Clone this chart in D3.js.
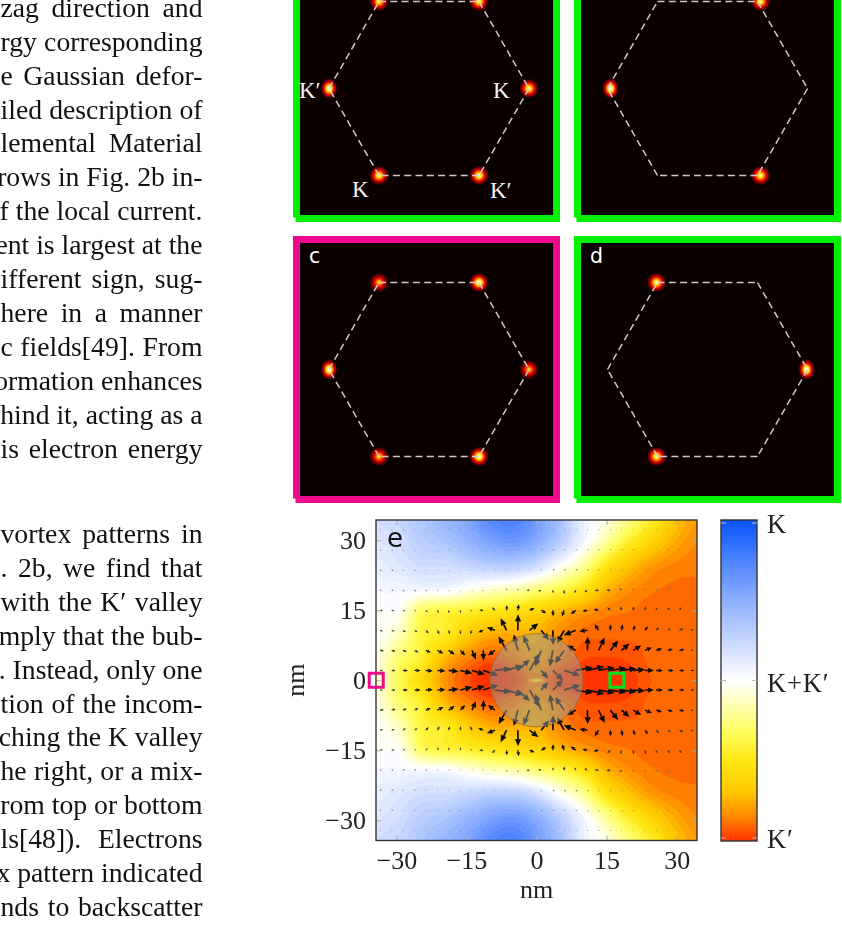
<!DOCTYPE html>
<html><head><meta charset="utf-8">
<script src="https://cdnjs.cloudflare.com/ajax/libs/d3/7.8.5/d3.min.js"></script>
<style>
html,body{margin:0;padding:0;background:#fff;overflow:hidden}
svg{display:block;filter:blur(0.45px)}
text{font-family:"Liberation Serif",serif}
</style></head><body><svg id="c" width="842" height="931"></svg>
<script>
// ---------- page text (column cropped by the picture's left edge) ----------
const bodyLinesTop=["zag direction and","rgy corresponding","e Gaussian defor-","iled description of","lemental Material","rows in Fig. 2b in-","f the local current.","ent is largest at the","ifferent sign, sug-","here in a manner","c fields[49]. From","ormation enhances","hind it, acting as a","is electron energy"];
const bodyLinesBottom=["vortex patterns in",". 2b, we find that","with the K′ valley","mply that the bub-",". Instead, only one","tion of the incom-","ching the K valley","he right, or a mix-","rom top or bottom","ls[48]). Electrons","x pattern indicated","nds to backscatter"];

// ---------- panels a-d: diffraction spots ----------
const panelNames=["a","b","c","d"];
const panelFrames=["green","green","pink","green"];
const hexVertices=[[-1,0],[-0.5,0.87],[0.5,0.87],[1,0],[0.5,-0.87],[-0.5,-0.87]];
// spot: k-space x, k-space y, intensity
const spotsA=[[-0.5,0.87,.8],[0.5,0.87,.85],[-1,0,1],[1,0,.85],[-0.5,-0.87,.85],[0.5,-0.87,.9]];
const spotsB=[[0.53,0.87,.85],[-0.97,0,1],[0.53,-0.87,.85]];
const spotsC=[[-0.5,0.87,.68],[0.5,0.87,.95],[-1,0,1],[1,0,.66],[-0.5,-0.87,.7],[0.5,-0.87,.95]];
const spotsD=[[-0.51,0.87,.88],[0.99,0,1],[-0.51,-0.87,.88]];
const panelSpots=[spotsA,spotsB,spotsC,spotsD];
const valleyLabels=[["K′",-1.30,-0.09],["K",0.64,-0.09],["K",-0.77,-1.08],["K′",0.61,-1.09]];

// ---------- panel e: valley polarisation (+1 K, -1 K′), rows top to bottom ----------
const fieldX=[-34.3,-29.4,-24.5,-19.6,-14.7,-9.8,-4.9,0,4.9,9.8,14.7,19.6,24.5,29.4,34.3];
const fieldY=[34.3,29.4,24.5,19.6,14.7,9.8,4.9,0,-4.9,-9.8,-14.7,-19.6,-24.5,-29.4,-34.3];
const fieldRows=[
[.2,.25,.35,.45,.55,.7,.75,.6,.4,.1,-.05,-.25,-.45,-.68,-.8],
[.15,.2,.3,.35,.45,.55,.6,.5,.3,.05,-.2,-.45,-.62,-.76,-.84],
[.1,.15,.2,.2,.25,.3,.3,.2,0,-.2,-.5,-.68,-.8,-.85,-.87],
[.05,.05,.05,.05,-.03,-.1,-.15,-.25,-.35,-.5,-.72,-.82,-.87,-.89,-.89],
[-.01,-.03,-.33,-.4,-.44,-.5,-.55,-.62,-.72,-.8,-.86,-.88,-.9,-.9,-.9],
[-.01,-.14,-.4,-.46,-.65,-.76,-.76,-.74,-.84,-.9,-.91,-.91,-.91,-.9,-.9],
[-.05,-.28,-.44,-.72,-.85,-.92,-.86,-.78,-.86,-.95,-.96,-.95,-.91,-.9,-.9],
[-.08,-.35,-.58,-.82,-.95,-1.05,-.98,-.85,-.98,-1,-1.05,-.99,-.92,-.9,-.9],
[-.05,-.28,-.44,-.72,-.85,-.92,-.86,-.78,-.86,-.95,-.96,-.95,-.91,-.9,-.9],
[-.01,-.14,-.4,-.46,-.65,-.76,-.76,-.74,-.84,-.9,-.91,-.91,-.91,-.9,-.9],
[-.01,-.03,-.33,-.4,-.44,-.5,-.55,-.62,-.72,-.8,-.86,-.88,-.9,-.9,-.9],
[.05,.05,.05,.05,-.03,-.1,-.15,-.25,-.35,-.5,-.72,-.82,-.87,-.89,-.89],
[.1,.15,.2,.2,.25,.3,.3,.2,0,-.2,-.5,-.68,-.8,-.85,-.87],
[.15,.2,.3,.35,.45,.55,.6,.5,.3,.05,-.2,-.45,-.62,-.76,-.84],
[.2,.25,.35,.45,.55,.7,.75,.6,.4,.1,-.05,-.25,-.45,-.68,-.8]];
const colorStops=[-1,-.84,-.69,-.5,-.31,0,.5,1];
const colorRange=["#ff3200","#ff8c00","#ffc800","#ffe614","#ffff64","#ffffff","#8cafff","#0a55ff"];

// ---------- panel e: local current arrows ----------
const quiverX=[-33.5,-31,-28.6,-26.1,-23.7,-21.2,-18.8,-16.3,-13.8,-11.4,-8.9,-6.4,-4,-1.5,1,3.5,5.9,8.4,10.9,13.3,15.8,18.2,20.7,23.2,25.6,28.1,30.6,33];
const quiverY=[32.2,27.9,23.6,19.3,15,10.7,6.4,2.1];
const currentU=[
[1,1,1,1,1,1,1,1,1,1,1,1,1,1,1,1,1,1,1,1,1,.3,.3,.3,.3,.3,.3,.3],
[1.5,1.5,1,1,1,1,1,1,1,1,1,1,1,1,1.5,1.5,1.5,1.5,1,1,1,1,1,.5,.5,.5,.5,.5],
[2,2,1.5,1.5,1,1,1,.5,.5,.5,.3,.3,.3,.3,1,2,2,2,1.5,1,1,1,.5,.5,.5,.5,.5,.5],
[2,2,2,2,1.5,1,1,.5,.3,-1,-1,.3,.5,-3,-3,.3,.3,-1,-3,-4,-4,-2,.3,.3,1,1,1,1],
[3,3,2.5,2,2,1,.3,.3,-2,-4,-3,.3,1,5,5,.3,-2,-5,-5,-5,-3,-1,.3,1,1,2,2,1],
[3,3,3,3,3,2,1,.3,-2,-5,-8,-6,.3,9,8,.3,-7,-12,-8,-4,.3,1,2,3,3,3,4,3],
[4,4,4,4,5,6,6,5,4,.3,-7,-8,-4,-6,-6,-3,-9,-9,.3,6,8,8,8,7,6,5,5,3],
[3,4,5,6,7,8,10,12,13,15,16,16,12,10,7,10,16,17,17,16,16,15,12,9,7,6,5,4]];
const currentV=[
[.5,.5,.5,.5,.5,.5,.5,.5,.5,.5,.5,.5,.5,.5,.5,.5,.5,.5,.5,.5,.5,1,1,1,1,1,1,1],
[-.5,-.5,-.5,-.5,-.5,-.5,-.5,-.5,-.5,0,0,0,.5,.5,.5,.5,.5,.5,1,1,1,1,1,1,1,1,1,1],
[-.5,-.5,-.5,-.5,-.5,-.5,-.5,0,0,0,1,1,1,1,1,1,1,1,1,1,1,1,1,1,1,1,1,1],
[-.5,-.5,-1,-1,-1,-1,-1,-1,-1,-1,-.5,2,2,0,-1,-3,-4,-3,-2,-.5,0,2,2,2,2,2,2,1],
[-.5,-.5,-1,-1,-2,-3,-3,-3,-1,0,3,5,6,2,-3,-6,-6,-4,-1,1,3,4,4,4,3,3,3,1],
[-1,-1,-2,-2,-3,-4,-4,-4,-4,-2,3,12,16,7,-10,-15,-13,-5,-1,6,6,6,5,4,3,2,2,1],
[-.5,-1,-1.5,-2,-2,-3,-4,-5,-9,-10,-5,14,16,15,-16,-16,-13,5,14,13,10,7,5,3,2,1.5,1,.5],
[0,0,0,0,-.5,-.5,-1,-3,-4,-5,2,5,11,17,-8,-10,-5,3,4,3,2.5,2,1,0,0,0,0,0]];
// the lower half of the picture reads as the mirror image of these rows about y = 0

const axisTicks=[-30,-15,0,15,30];
const circleRadiusNm=10.0;
const markerPink=[-34.3,0], markerGreen=[17.2,0];
const colorbarLabels=[[1,"K"],[0,"K+K′"],[-1,"K′"]];
const xLabel="nm", yLabel="nm", panelELabel="e";

// =======================================================================
const svg=d3.select("#c"), defs=svg.append("defs");

// body text, justified to the column the way the page was set
const bodyFont=27.7, colRight=202.5, colLeft=0.5;
const bodyG=svg.append("g").attr("font-size",bodyFont).attr("fill","#111").attr("text-anchor","end");
const writeLines=(lines,first)=>lines.forEach((t,i)=>{
  const el=bodyG.append("text").attr("x",colRight).attr("y",first+i*33.9).text(t);
  const w=el.node().getComputedTextLength(), gaps=t.split(" ").length-1, extra=colRight-colLeft-w;
  if(extra>0&&gaps>0) el.attr("word-spacing",extra/gaps);
});
writeLines(bodyLinesTop,16.8); writeLines(bodyLinesBottom,543);

// panels
const frameColor={green:"#00f000",pink:"#ee0a8c"};
const panelBox={a:[300,-38,2.5],b:[581,-38,0],c:[300,243,2.5],d:[581,243,0]};
const hot=d3.scaleLinear().domain([0,.38,.72,1]).range(["#0a0000","#f00000","#ffe000","#ffffff"]).clamp(true);
panelNames.forEach((name,pi)=>{
  const [bx,by,shift]=panelBox[name], W=253;
  const g=svg.append("g").attr("transform",`translate(${bx},${by})`);
  const fc=frameColor[panelFrames[pi]];
  g.append("rect").attr("x",-7).attr("y",-7).attr("width",267).attr("height",262.5).attr("fill",fc);
  g.append("rect").attr("x",-4.5).attr("y",253).attr("width",264.5).attr("height",7).attr("fill",fc);
  g.append("rect").attr("width",W).attr("height",W).attr("fill","#0a0000");
  const kx=d3.scaleLinear().domain([-1.265,1.265]).range([shift,W+shift]);
  const ky=d3.scaleLinear().domain([1.265,-1.265]).range([0,W]);
  panelSpots[pi].forEach((s,si)=>{
    const id=`sp${pi}_${si}`, I=s[2];
    const grad=defs.append("radialGradient").attr("id",id);
    d3.range(0,1.01,.1).forEach(t=>{
      const v=I*Math.pow(1-t,1.2)*1.15;
      grad.append("stop").attr("offset",t).attr("stop-color",hot(v));
    });
    const r=10;
    g.append("circle").attr("cx",kx(s[0])).attr("cy",ky(s[1])).attr("r",r+5).attr("fill","none").attr("stroke","#2a0505").attr("stroke-width",.8).attr("stroke-dasharray",I>.8?"24,80":"0,200");
    g.append("ellipse").attr("cx",kx(s[0])).attr("cy",ky(s[1])).attr("rx",I>=1?r*.85:r).attr("ry",I>=1?r*1.05:r).attr("fill",`url(#${id})`);
  });
  hexVertices.forEach((v,i)=>{
    const w=hexVertices[(i+1)%6];
    g.append("line").attr("x1",kx(v[0])).attr("y1",ky(v[1])).attr("x2",kx(w[0])).attr("y2",ky(w[1]))
     .attr("stroke","#cfc9c9").attr("stroke-width",1.5).attr("stroke-dasharray","7,4.3");
  });
  if(name==="a") valleyLabels.forEach(l=>g.append("text").attr("x",kx(l[1])).attr("y",ky(l[2])).attr("fill","#f4f0f0").attr("font-size",23).text(l[0]));
  if(name==="c"||name==="d") g.append("text").attr("x",9).attr("y",20).attr("fill","#fff").attr("font-size",20.5).style("font-family","'DejaVu Sans',sans-serif").text(name);
});

// panel e
const P={l:376,r:697,t:520,b:840.5};
const x=d3.scaleLinear().domain([-34.35,34.35]).range([P.l,P.r]);
const y=d3.scaleLinear().domain([34.35,-34.35]).range([P.t,P.b]);
const color=d3.scaleLinear().domain(colorStops).range(colorRange).clamp(true);

defs.append("clipPath").attr("id","plotClip").append("rect").attr("x",P.l).attr("y",P.t).attr("width",P.r-P.l).attr("height",P.b-P.t);
const plot=svg.append("g").attr("clip-path","url(#plotClip)");

// Catmull-Rom resampling of the read grid so that the filled bands are drawn smooth
const n=fieldRows.length, k=8, m=(n-1)*k+1;
const cr=(a,b,c,d,t)=>.5*((2*b)+(-a+c)*t+(2*a-5*b+4*c-d)*t*t+(-a+3*b-3*c+d)*t*t*t);
const at=(r,c)=>fieldRows[Math.max(0,Math.min(n-1,r))][Math.max(0,Math.min(n-1,c))];
const fine=new Float64Array(m*m);
for(let j=0;j<m;j++)for(let i=0;i<m;i++){
  const fy=j/k,fx=i/k,r=Math.min(n-2,Math.floor(fy)),c=Math.min(n-2,Math.floor(fx)),ty=fy-r,tx=fx-c;
  const row=q=>cr(at(q,c-1),at(q,c),at(q,c+1),at(q,c+2),tx);
  fine[j*m+i]=cr(row(r-1),row(r),row(r+1),row(r+2),ty);
}
const thresholds=d3.range(-1.2,1.01,.04);
const fx2=d3.scaleLinear().domain([.5,m-.5]).range([x(fieldX[0]),x(fieldX[n-1])]);
const fy2=d3.scaleLinear().domain([.5,m-.5]).range([y(fieldY[0]),y(fieldY[n-1])]);
const contourPath=d3.geoPath(d3.geoTransform({point(a,b){this.stream.point(fx2(a),fy2(b));}}));
plot.selectAll("path.band").data(d3.contours().size([m,m]).thresholds(thresholds)(fine)).join("path")
  .attr("class","band").attr("d",contourPath).attr("fill",d=>color(d.value+.02)).attr("stroke",d=>color(d.value+.02)).attr("stroke-width",.3);

// arrows
const rowsAll=[];
currentU.forEach((u,r)=>rowsAll.push({yn:quiverY[r],u,v:currentV[r]}));
currentU.slice().reverse().forEach((u,ri)=>{const r=currentU.length-1-ri;rowsAll.push({yn:-quiverY[r],u,v:currentV[r].map(d=>-d)});});
const arrowG=plot.append("g");
rowsAll.forEach(R=>quiverX.forEach((xn,i)=>{
  const dx=R.u[i],dy=-R.v[i],L=Math.hypot(dx,dy)||1;
  const x0=x(xn),y0=y(R.yn),ux=dx/L,uy=dy/L;
  const hl=Math.min(7,.6*L+.4),hw=hl*.45;
  const sw=Math.min(1.7,.6+L*.11);
  const bx=x0+ux*(L-hl),by=y0+uy*(L-hl);
  const col=L<2.5?"#666":L<5?"#333":"#0c0c0c";
  arrowG.append("line").attr("x1",x0).attr("y1",y0).attr("x2",bx).attr("y2",by).attr("stroke",col).attr("stroke-width",sw);
  arrowG.append("path").attr("d",d3.line()([[x0+dx,y0+dy],[bx-uy*hw,by+ux*hw],[bx+uy*hw,by-ux*hw]])+"Z").attr("fill",col);
}));

// deformation bubble
const rPx=x(circleRadiusNm)-x(0);
plot.append("circle").attr("cx",x(0)).attr("cy",y(0)).attr("r",rPx).attr("fill","#999").attr("fill-opacity",.5).attr("stroke","#8a5a20").attr("stroke-opacity",.6).attr("stroke-width",1);
const glow=defs.append("radialGradient").attr("id","centerGlow");
glow.append("stop").attr("offset",0).attr("stop-color","#e8e860").attr("stop-opacity",.8);
glow.append("stop").attr("offset",1).attr("stop-color","#e8c860").attr("stop-opacity",0);
plot.append("ellipse").attr("cx",x(0)).attr("cy",y(0)).attr("rx",10).attr("ry",3).attr("fill","url(#centerGlow)");

// axes
const tickFmt=d=>String(d).replace("-","−");
const styleAxis=g=>{g.select(".domain").remove();g.selectAll("line").attr("stroke","#aaa").attr("stroke-width",1);
  g.selectAll("text").attr("fill","#222").style("font-family","'Liberation Serif',serif").attr("font-size",26);};
svg.append("g").attr("transform",`translate(0,${P.b})`).call(d3.axisBottom(x).tickValues(axisTicks).tickFormat(tickFmt).tickSize(-5).tickPadding(10)).call(styleAxis);
svg.append("g").attr("transform",`translate(0,${P.t})`).call(d3.axisTop(x).tickValues(axisTicks).tickFormat("").tickSize(-5)).call(styleAxis);
svg.append("g").attr("transform",`translate(${P.l},0)`).call(d3.axisLeft(y).tickValues(axisTicks).tickFormat(tickFmt).tickSize(-5).tickPadding(10)).call(styleAxis);
svg.append("g").attr("transform",`translate(${P.r},0)`).call(d3.axisRight(y).tickValues(axisTicks).tickFormat("").tickSize(-5)).call(styleAxis);
svg.append("rect").attr("x",P.l).attr("y",P.t).attr("width",P.r-P.l).attr("height",P.b-P.t).attr("fill","none").attr("stroke","#333").attr("stroke-width",1.4);

svg.append("text").attr("x",x(0)).attr("y",898).attr("text-anchor","middle").attr("font-size",26).attr("fill","#222").text(xLabel);
svg.append("text").attr("transform",`translate(304,${y(0)}) rotate(-90)`).attr("text-anchor","middle").attr("font-size",26).attr("fill","#222").text(yLabel);
svg.append("text").attr("x",387).attr("y",547).attr("font-size",26).attr("fill","#111").style("font-family","'DejaVu Sans',sans-serif").text(panelELabel);

// markers
[[markerPink,"#ee0a8c"],[markerGreen,"#00e020"]].forEach(([p,c])=>svg.append("rect").attr("x",x(p[0])-7).attr("y",y(p[1])-7).attr("width",14).attr("height",14).attr("fill","none").attr("stroke",c).attr("stroke-width",3));

// colour bar
const CB={l:721,r:757,t:520,b:841};
const cy=d3.scaleLinear().domain([1,-1]).range([CB.t,CB.b]);
svg.append("g").selectAll("rect").data(d3.range(CB.t,CB.b)).join("rect")
  .attr("x",CB.l).attr("width",CB.r-CB.l).attr("y",d=>d).attr("height",1).attr("fill",d=>color(cy.invert(d+.5)));
svg.append("rect").attr("x",CB.l).attr("y",CB.t).attr("width",CB.r-CB.l).attr("height",CB.b-CB.t).attr("fill","none").attr("stroke","#333").attr("stroke-width",1.4);
colorbarLabels.forEach(([v,t])=>{
  [[CB.l,CB.l+5],[CB.r-5,CB.r]].forEach(([a,b])=>svg.append("line").attr("x1",a).attr("x2",b).attr("y1",cy(v)+(v===1?3:v===-1?-3:0)).attr("y2",cy(v)+(v===1?3:v===-1?-3:0)).attr("stroke","#bbb"));
  svg.append("text").attr("x",767).attr("y",cy(v)+(v===1?13:v===-1?7:11.5)).attr("font-size",26.6).attr("letter-spacing",.8).attr("fill","#222").text(t);
});
</script></body></html>
